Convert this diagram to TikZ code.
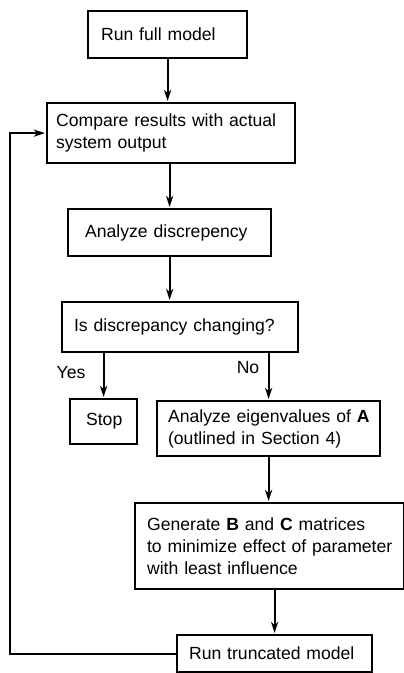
\documentclass[tikz,border=0pt]{standalone}
\usepackage{fontspec}
\setmainfont{Liberation Sans}
\usepackage{tikz}
\usetikzlibrary{calc}
\usetikzlibrary{positioning, arrows.meta}

\tikzset{
    stepbox/.style={draw=black, line width=2.2pt, anchor=north west, align=left,
        font=\fontsize{17.6}{22}\selectfont, inner ysep=0pt},
    flow/.style={line width=2.2pt, -{Stealth[length=11pt, width=7pt, inset=3pt]}, shorten >=1pt},
    answer/.style={font=\fontsize{17.6}{22}\selectfont, inner sep=0pt}
}

\begin{document}
\begin{tikzpicture}[x=1pt, y=-1pt]
    \useasboundingbox (0,0) rectangle (404,673);

    \node[stepbox, inner xsep=13pt, text width=133pt, minimum height=47pt] (full) at (87,10) {Run full model};
    \node[stepbox, inner xsep=9pt, text width=230pt, minimum height=60pt] (compare) at (46,102)
        {\mbox{Compare results with actual}\\system output};
    \node[stepbox, inner xsep=17pt, text width=169pt, minimum height=47pt] (disc) at (67,208) {Analyze discrepency};
    \node[stepbox, inner xsep=12pt, text width=212pt, minimum height=50pt] (chg) at (61,301) {Is discrepancy changing?};
    \node[stepbox, inner xsep=16pt, text width=35pt, minimum height=45pt] (stop) at (69,398) {Stop};
    \node[stepbox, inner xsep=11pt, text width=201pt, minimum height=55pt] (eig) at (156,400)
        {\mbox{Analyze eigenvalues of \textbf{A}}\\(outlined in Section 4)};
    \node[stepbox, inner xsep=12pt, text width=245pt, minimum height=86pt] (gen) at (134,502)
        {\mbox{Generate \textbf{B} and \textbf{C} matrices}\\\mbox{to minimize effect of parameter}\\with least influence};
    \node[stepbox, inner xsep=12pt, text width=171pt, minimum height=37pt] (trunc) at (176,634) {Run truncated model};

    \node[answer] (yes) at (71,373) {Yes};
    \node[answer] (no) at (248,368) {No};
    \coordinate (loop) at (10,655);

    \draw[flow] (full.south) -- (full.south |- compare.north);
    \draw[flow] (compare.south -| disc.north) -- (disc.north);
    \draw[flow] (disc.south) -- (disc.south |- chg.north);
    \draw[flow] (stop.north |- chg.south) -- (stop.north);
    \draw[flow] (eig.north |- chg.south) -- (eig.north);
    \draw[flow] (eig.south) -- (eig.south |- gen.north);
    \draw[flow] (trunc.north |- gen.south) -- (trunc.north);
    \draw[flow] (trunc.west) -- (trunc.west -| loop) |- (compare.west);
\end{tikzpicture}
\end{document}
